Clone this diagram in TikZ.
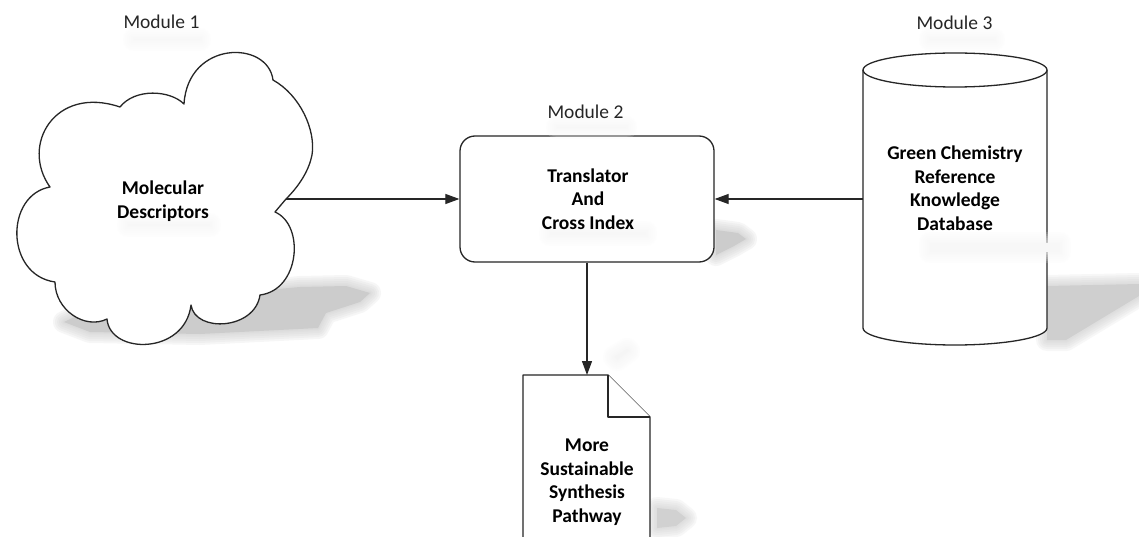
\documentclass[tikz,border=0pt]{standalone}
\usepackage{fontspec}
\setmainfont{Carlito}
\usetikzlibrary{arrows.meta}
\tikzset{
  outline/.style={draw=black!85, line width=1.3pt, fill=white, line join=round},
  conn/.style={draw=black!85, line width=1.2pt, -{Triangle[length=14pt,width=10pt]}},
  modlabel/.style={font=\fontsize{19.5}{23}\selectfont, inner sep=0pt, text=black!85},
  boxtext/.style={font=\bfseries\fontsize{19.5}{23.5}\selectfont, align=center, inner sep=0pt},
}
\newcommand\blurfill[2]{%
  \foreach \w in {22,18,14,10,6,3}{\draw[line width=\w pt, draw=#1, opacity=0.16, line join=round] #2;}
  \fill[#1] #2;}
\begin{document}
\begin{tikzpicture}[x=1pt,y=-1pt]
\useasboundingbox (0,0) rectangle (1139,537);
\clip (0,0) rectangle (1139,537);
\fill[white] (0,0) rectangle (1139,537);

% ---- soft shadows
\blurfill{black!20}{(64,322) -- (100,305) -- (300,287) -- (346,286) -- (370,293) -- (360,302) -- (326,313) -- (318,328) -- (200,334) -- (90,332) -- cycle}
\blurfill{black!20}{(716,230) -- (738,233) -- (746,239) -- (734,246) -- (716,255) -- cycle}
\blurfill{black!19}{(1047,286) -- (1139,284) -- (1139,296) -- (1066,340) -- (1047,340) -- cycle}
\blurfill{black!18}{(657,508) -- (676,510) -- (686,518) -- (676,526) -- (657,528) -- cycle}
\blurfill{black!4}{(614,357) -- (627,349) -- (629,351) -- (617,360) -- cycle}

% ---- cloud (Module 1)
\draw[outline] (286,199)
  .. controls (300,185) and (309,170) .. (312,155)
  .. controls (316,130) and (300,95) .. (273,80)
  .. controls (268,40) and (188,40) .. (184,104)
  .. controls (170,90) and (135,88) .. (120,107)
  .. controls (55,85) and (20,145) .. (50,187)
  .. controls (5,195) and (5,275) .. (55,282)
  .. controls (55,310) and (85,330) .. (107,319)
  .. controls (110,355) and (185,355) .. (191,305)
  .. controls (195,333) and (255,330) .. (260,295)
  .. controls (300,290) and (305,225) .. (275,212)
  -- cycle;
\coordinate (cloudtip) at (286,199);

% ---- cylinder (Module 3)
\draw[outline] (863,70) -- (863,328)
  .. controls (863,337.4) and (904.2,345) .. (955,345)
  .. controls (1005.8,345) and (1047,337.4) .. (1047,328)
  -- (1047,70);
\draw[outline] (955,70) ellipse [x radius=92, y radius=17];
\node[minimum width=184pt, minimum height=258pt, inner sep=0pt, outer sep=0pt] (db) at (955,199) {};

% ---- translator box (Module 2)
\node[outline, rounded corners=15pt, minimum width=254pt, minimum height=126pt] (trans) at (587,199) {};

% ---- document
\draw[outline] (523,375) -- (608,375) -- (650,417) -- (650,545) -- (523,545) -- cycle;
\draw[outline] (608,375) -- (608,417) -- (650,417);
\coordinate (doctop) at (587,375);

% ---- faint text reflections (on top of the shapes)
\blurfill{black!3}{(134,39) -- (200,39) -- (200,40) -- (134,40) -- cycle}
\blurfill{black!3}{(557,127) -- (626,127) -- (626,128) -- (557,128) -- cycle}
\blurfill{black!3}{(930,39) -- (994,39) -- (994,40) -- (930,40) -- cycle}
\blurfill{black!3}{(128,224) -- (210,224) -- (210,226) -- (128,226) -- cycle}
\blurfill{black!3}{(550,232) -- (646,232) -- (646,235) -- (550,235) -- cycle}
\blurfill{black!3}{(930,243) -- (1060,243) -- (1060,252) -- (930,252) -- cycle}

% ---- texts
\node[boxtext] (cloud) at (163,201) {Molecular\\Descriptors};
\node[boxtext] (dbtext) at (955,188) {Green Chemistry\\Reference\\Knowledge\\Database};
\node[boxtext] (transtext) at (588,199) {Translator\\And\\Cross Index};
\node[boxtext] (doc) at (587,482) {More\\Sustainable\\Synthesis\\Pathway};
\node[modlabel] (m1) at (161.5,22) {Module 1};
\node[modlabel] (m2) at (585.5,112) {Module 2};
\node[modlabel] (m3) at (954.5,23) {Module 3};

% ---- connectors
\draw[conn] (cloudtip) -- (trans.west);
\draw[conn] (db.west) -- (trans.east);
\draw[conn] (trans.south) -- (doctop);
\end{tikzpicture}
\end{document}
